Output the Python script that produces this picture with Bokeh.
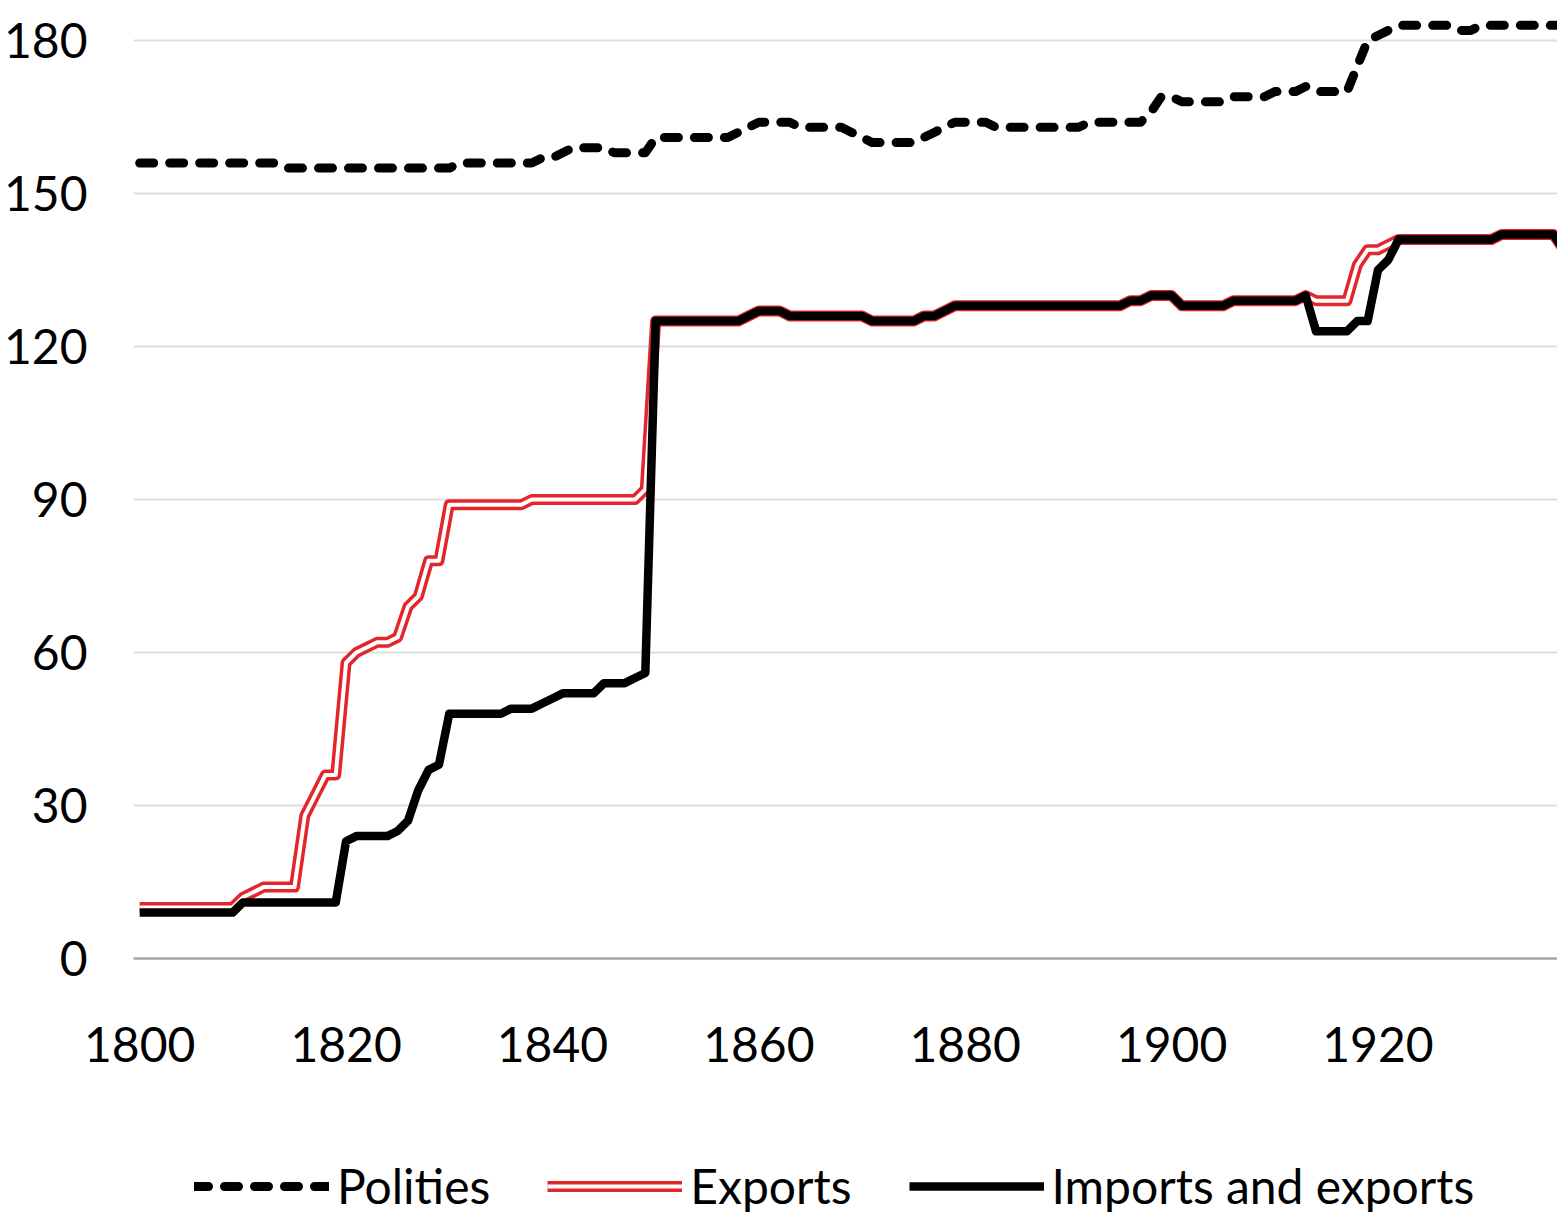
from bokeh.plotting import figure
from bokeh.layouts import column
from bokeh.models import Range1d, Legend, LegendItem, FixedTicker, ColumnDataSource
from bokeh.embed import file_html
from bokeh.resources import INLINE

years = list(range(1800, 1939))

polities = [
    156, 156, 156, 156, 156, 156, 156, 156, 156, 156,
    156, 156, 156, 156, 155, 155, 155, 155, 155, 155,
    155, 155, 155, 155, 155, 155, 155, 155, 155, 155,
    155, 156, 156, 156, 156, 156, 156, 156, 156, 157,
    157, 158, 159, 159, 159, 159, 158, 158, 158, 158,
    161, 161, 161, 161, 161, 161, 161, 161, 162, 163,
    164, 164, 164, 164, 163, 163, 163, 163, 163, 162,
    161, 160, 160, 160, 160, 160, 161, 162, 163, 164,
    164, 164, 164, 163, 163, 163, 163, 163, 163, 163,
    163, 163, 164, 164, 164, 164, 164, 164, 166, 169,
    169, 168, 168, 168, 168, 168, 169, 169, 169, 169,
    170, 170, 170, 171, 170, 170, 170, 170, 175, 180,
    181, 182, 183, 183, 183, 183, 183, 183, 182, 182,
    183, 183, 183, 183, 183, 183, 183, 183, 183,
]

exports = [
    10, 10, 10, 10, 10, 10, 10, 10, 10, 10,
    12, 13, 14, 14, 14, 14, 28, 32, 36, 36,
    58, 60, 61, 62, 62, 63, 69, 71, 78, 78,
    89, 89, 89, 89, 89, 89, 89, 89, 90, 90,
    90, 90, 90, 90, 90, 90, 90, 90, 90, 92,
    125, 125, 125, 125, 125, 125, 125, 125, 125, 126,
    127, 127, 127, 126, 126, 126, 126, 126, 126, 126,
    126, 125, 125, 125, 125, 125, 126, 126, 127, 128,
    128, 128, 128, 128, 128, 128, 128, 128, 128, 128,
    128, 128, 128, 128, 128, 128, 129, 129, 130, 130,
    130, 128, 128, 128, 128, 128, 129, 129, 129, 129,
    129, 129, 129, 130, 129, 129, 129, 129, 136, 139,
    139, 140, 141, 141, 141, 141, 141, 141, 141, 141,
    141, 141, 142, 142, 142, 142, 142, 142, 139,
]

imports_exports = [
    9, 9, 9, 9, 9, 9, 9, 9, 9, 9,
    11, 11, 11, 11, 11, 11, 11, 11, 11, 11,
    23, 24, 24, 24, 24, 25, 27, 33, 37, 38,
    48, 48, 48, 48, 48, 48, 49, 49, 49, 50,
    51, 52, 52, 52, 52, 54, 54, 54, 55, 56,
    125, 125, 125, 125, 125, 125, 125, 125, 125, 126,
    127, 127, 127, 126, 126, 126, 126, 126, 126, 126,
    126, 125, 125, 125, 125, 125, 126, 126, 127, 128,
    128, 128, 128, 128, 128, 128, 128, 128, 128, 128,
    128, 128, 128, 128, 128, 128, 129, 129, 130, 130,
    130, 128, 128, 128, 128, 128, 129, 129, 129, 129,
    129, 129, 129, 130, 123, 123, 123, 123, 125, 125,
    135, 137, 141, 141, 141, 141, 141, 141, 141, 141,
    141, 141, 142, 142, 142, 142, 142, 142, 139,
]

y_ticks = [0, 30, 60, 90, 120, 150, 180]
x_ticks = [1800, 1820, 1840, 1860, 1880, 1900, 1920]
labels = ["Polities", "Exports", "Imports and exports"]

FONT = "Lato"
FS = "48px"
RED = "#e3262b"

src = ColumnDataSource(dict(year=years, pol=polities, exp=exports, imp=imports_exports))


def draw_series(fig):
    r_pol = fig.line("year", "pol", source=src, line_color="black", line_width=9,
                     line_dash="14 16", line_cap="round", line_join="round")
    r_exp_outer = fig.line("year", "exp", source=src, line_color=RED, line_width=11,
                           line_join="round")
    r_exp_inner = fig.line("year", "exp", source=src, line_color="white", line_width=4,
                           line_join="round")
    r_imp = fig.line("year", "imp", source=src, line_color="black", line_width=8.5,
                     line_join="round")
    return r_pol, r_exp_outer, r_exp_inner, r_imp


# ---- main chart ----
p = figure(frame_width=1424, frame_height=950, output_backend="svg", toolbar_location=None,
           x_range=Range1d(1799.4, 1937.4), y_range=Range1d(0, 186.3),
           min_border_left=124, min_border_right=0, min_border_top=8,
           min_border_bottom=142)
p.outline_line_color = None
p.background_fill_color = "white"
p.border_fill_color = "white"

draw_series(p)

p.yaxis.ticker = FixedTicker(ticks=y_ticks)
p.yaxis.axis_line_color = None
p.yaxis.major_tick_line_color = None
p.yaxis.minor_tick_line_color = None
p.yaxis.major_label_standoff = 40
p.yaxis.major_label_text_font = FONT
p.yaxis.major_label_text_font_size = FS
p.yaxis.major_label_text_color = "black"

p.xaxis.ticker = FixedTicker(ticks=x_ticks)
p.xaxis.axis_line_color = "#a6a6a6"
p.xaxis.axis_line_width = 2.5
p.xaxis.major_tick_line_color = None
p.xaxis.minor_tick_line_color = None
p.xaxis.major_label_standoff = 62
p.xaxis.major_label_text_font = FONT
p.xaxis.major_label_text_font_size = FS
p.xaxis.major_label_text_color = "black"

p.xgrid.grid_line_color = None
p.ygrid.ticker = FixedTicker(ticks=y_ticks[1:])
p.ygrid.grid_line_color = "#dedede"
p.ygrid.grid_line_width = 2

# ---- legend strip (series drawn off-range so only the legend shows) ----
lg = figure(frame_width=1548, frame_height=115, output_backend="svg", toolbar_location=None,
            x_range=Range1d(1799.4, 1937.4), y_range=Range1d(1000, 1001),
            x_axis_location=None, y_axis_location=None,
            min_border_left=0, min_border_right=0, min_border_top=0, min_border_bottom=0)
lg.grid.visible = False
lg.outline_line_color = None
lg.background_fill_color = "white"
lg.border_fill_color = "white"
l_pol, l_exp_o, l_exp_i, l_imp = draw_series(lg)

legend = Legend(items=[
    LegendItem(label=labels[0], renderers=[l_pol]),
    LegendItem(label=labels[1], renderers=[l_exp_o, l_exp_i]),
    LegendItem(label=labels[2], renderers=[l_imp]),
], orientation="horizontal", location=(194, 1), border_line_color=None,
    background_fill_alpha=0, glyph_width=135, glyph_height=40, label_standoff=8,
    spacing=57, padding=0, margin=0, label_text_font=FONT, label_text_font_size=FS,
    label_text_color="black")
lg.add_layout(legend, "center")

layout = column(p, lg, spacing=0)
open("out.html", "w").write(file_html(layout, INLINE))
